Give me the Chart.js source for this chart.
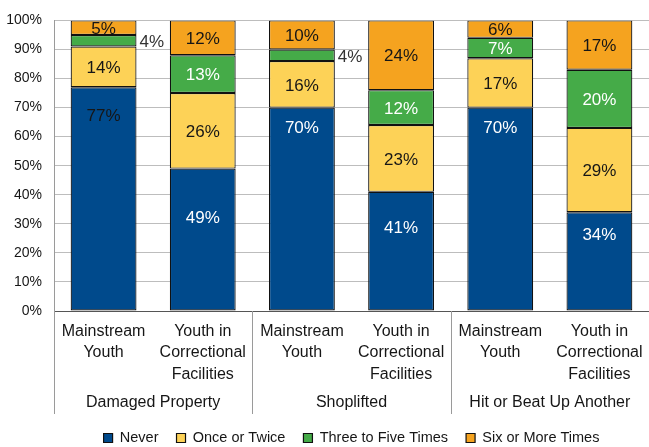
<!DOCTYPE html>
<html>
<head>
<meta charset="utf-8">
<script src="https://cdn.jsdelivr.net/npm/chart.js@4/dist/chart.umd.min.js"></script>
<style>
  html, body { margin: 0; padding: 0; background: #fff; overflow: hidden; }
  #wrap { width: 649px; height: 447px; }
</style>
</head>
<body>
<div id="wrap"><canvas id="chart" width="649" height="447"></canvas></div>
<script>
'use strict';

var barLabels = [
  ['Mainstream', 'Youth'],
  ['Youth in', 'Correctional', 'Facilities'],
  ['Mainstream', 'Youth'],
  ['Youth in', 'Correctional', 'Facilities'],
  ['Mainstream', 'Youth'],
  ['Youth in', 'Correctional', 'Facilities']
];
var groupNames = ['Damaged Property', 'Shoplifted', 'Hit or Beat Up Another'];
var seriesNames = ['Never', 'Once or Twice', 'Three to Five Times', 'Six or More Times'];

var never       = [77, 49, 70, 41, 70, 34];
var onceOrTwice = [14, 26, 16, 23, 17, 29];
var threeToFive = [4, 13, 4, 12, 7, 20];
var sixOrMore   = [5, 12, 10, 24, 6, 17];

var yMin = 0, yMax = 100, yStep = 10;

// styling
var FONT = "'Liberation Sans', Arial, sans-serif";
var INK = '#161616';
var colors = ['#004a8c', '#fdd257', '#45ab48', '#f5a31f'];
var labelInk = ['#ffffff', INK, '#ffffff', INK];
// the "Never" labels sit high in their segments (fraction of segment height from the top)
var neverLabelAt = [0.13, 0.35, 0.10, 0.31, 0.10, 0.24];
var neverLabelInk = [INK, '#ffffff', '#ffffff', '#ffffff', '#ffffff', '#ffffff'];


var valueLabels = {
  id: 'valueLabels',
  afterDatasetsDraw: function(chart) {
    var ctx = chart.ctx;
    ctx.save();
    ctx.font = '17px ' + FONT;
    ctx.textBaseline = 'middle';
    chart.data.datasets.forEach(function(ds, di) {
      var meta = chart.getDatasetMeta(di);
      meta.data.forEach(function(bar, i) {
        var p = bar.getProps(['x', 'y', 'base', 'width'], true);
        var top = Math.min(p.y, p.base);
        var bottom = Math.max(p.y, p.base);
        var v = ds.data[i];
        var text = v + '%';
        if (v < 5) {
          // too thin, put it beside the bar
          ctx.textAlign = 'left';
          ctx.fillStyle = '#333333';
          ctx.fillText(text, p.x + p.width / 2 + 3, (top + bottom) / 2 + 2);
          return;
        }
        ctx.textAlign = 'center';
        var y = (top + bottom) / 2 + 1.5;
        ctx.fillStyle = labelInk[di];
        if (di === 0) {
          y = top + neverLabelAt[i] * (bottom - top);
          ctx.fillStyle = neverLabelInk[i];
        }
        ctx.fillText(text, p.x, y);
      });
    });
    ctx.restore();
  }
};

var groupAxis = {
  id: 'groupAxis',
  afterDraw: function(chart) {
    var ctx = chart.ctx;
    var xs = chart.scales.x;
    var area = chart.chartArea;
    var step = xs.getPixelForValue(1) - xs.getPixelForValue(0);
    var lineEnd = area.bottom + 103;
    ctx.save();
    ctx.strokeStyle = '#9a9a9a';
    ctx.lineWidth = 1;
    ctx.beginPath();
    ctx.moveTo(Math.round(area.left) + 0.5, area.bottom);
    ctx.lineTo(Math.round(area.left) + 0.5, lineEnd);
    for (var g = 1; g < groupNames.length; g++) {
      var sx = Math.round(xs.getPixelForValue(g * 2) - step / 2) + 0.5;
      ctx.moveTo(sx, area.bottom);
      ctx.lineTo(sx, lineEnd);
    }
    ctx.stroke();

    ctx.font = '16px ' + FONT;
    ctx.fillStyle = INK;
    ctx.textAlign = 'center';
    ctx.textBaseline = 'middle';
    groupNames.forEach(function(name, g) {
      var cx = (xs.getPixelForValue(g * 2) + xs.getPixelForValue(g * 2 + 1)) / 2;
      ctx.fillText(name, cx, area.bottom + 92);
    });
    ctx.restore();
  }
};


var makeDataset = function(name, values, idx) {
  return {
    label: name,
    data: values,
    backgroundColor: colors[idx],
    borderColor: '#111111',
    borderWidth: 1.2,
    borderSkipped: false,
    barPercentage: 0.664,
    categoryPercentage: 1
  };
};

var createChart = function() {
  var canvas = document.getElementById('chart');
  return new Chart(canvas, {
    type: 'bar',
    data: {
      labels: barLabels,
      datasets: [
        makeDataset(seriesNames[0], never, 0),
        makeDataset(seriesNames[1], onceOrTwice, 1),
        makeDataset(seriesNames[2], threeToFive, 2),
        makeDataset(seriesNames[3], sixOrMore, 3)
      ]
    },
    options: {
      responsive: false,
      animation: false,
      layout: { padding: { top: 19, right: 0, bottom: -8.25, left: 0 } },
      scales: {
        x: {
          stacked: true,
          grid: { display: false },
          border: { color: '#555555' },
          ticks: {
            color: INK,
            font: { family: FONT, size: 16, lineHeight: 1.33 },
            padding: 2,
            maxRotation: 0,
            autoSkip: false
          },
          afterFit: function(scale) { scale.height = 101.75; }
        },
        y: {
          stacked: true,
          min: yMin,
          max: yMax,
          grid: { color: '#bdbdbd', drawTicks: false },
          border: { color: '#9a9a9a' },
          ticks: {
            stepSize: yStep,
            color: INK,
            font: { family: FONT, size: 14 },
            padding: 12,
            callback: function(v) { return v + '%'; }
          },
          afterFit: function(scale) { scale.width = 54; }
        }
      },
      plugins: {
        legend: {
          position: 'bottom',
          fullSize: false,
          labels: {
            color: INK,
            boxWidth: 9,
            boxHeight: 9,
            padding: 18,
            font: { family: FONT, size: 14.5 }
          }
        },
        tooltip: { enabled: false }
      }
    },
    plugins: [valueLabels, groupAxis]
  });
};

createChart();
</script>
</body>
</html>
